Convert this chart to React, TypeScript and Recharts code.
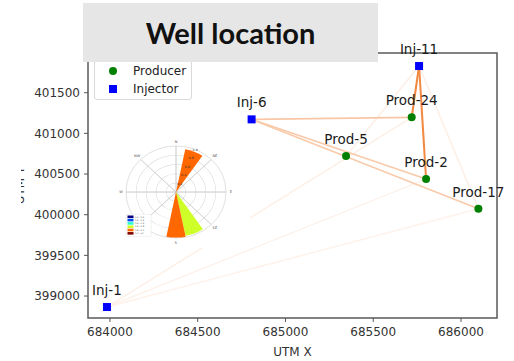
import React from "react";
import { ScatterChart, Scatter, XAxis, YAxis, ReferenceArea, PieChart, Pie } from "recharts";

// well coordinates (UTM)
const wellNames = ["Inj-1", "Inj-6", "Inj-11", "Prod-24", "Prod-5", "Prod-2", "Prod-17"];
const wellType = ["Injector", "Injector", "Injector", "Producer", "Producer", "Producer", "Producer"];
const wellX = [683983, 684807, 685761, 685719, 685345, 685801, 686099];
const wellY = [398865, 401172, 401828, 401197, 400721, 400438, 400073];

// injector -> producer connectivity
const connFrom = ["Inj-1", "Inj-1", "Inj-1", "Inj-11", "Inj-11", "Inj-6", "Inj-6", "Inj-6", "Inj-11", "Inj-11"];
const connTo = ["Prod-24", "Prod-2", "Prod-17", "Prod-5", "Prod-17", "Prod-24", "Prod-2", "Prod-17", "Prod-24", "Prod-2"];
const connWeight = [0.12, 0.1, 0.1, 0.12, 0.12, 0.42, 0.4, 0.4, 0.9, 0.88];

const xTicks = [684000, 684500, 685000, 685500, 686000];
const yTicks = [399000, 399500, 400000, 400500, 401000, 401500];
const xDomain = [683875, 686205];
const yDomain = [398730, 401988];

// wind rose inset
const roseDir = [22.5, 157.5, 180];
const roseValue = [0.95, 0.97, 0.99];
const roseBin = [4, 3, 4];
const ringValues = [0.2, 0.4, 0.6, 0.8, 1.0];
const ringLabels = ["0.2", "0.4", "0.6", "0.8", "1.0"];
const compassNames = ["N", "NE", "E", "SE", "S", "SW", "W", "NW"];
const binLabels = ["0.0 : 0.2", "0.2 : 0.4", "0.4 : 0.6", "0.6 : 0.8", "0.8 : 1.0", "1.0 : inf"];
const binColors = ["#000080", "#004cff", "#29ffce", "#ceff29", "#ff6800", "#800000"];

const wells = wellNames.map((name, i) => ({ name, type: wellType[i], x: wellX[i], y: wellY[i] }));
const producers = wells.filter((w) => w.type === "Producer");
const injectors = wells.filter((w) => w.type === "Injector");

const findWell = (n: string) => wells.find((w) => w.name === n)!;

function orange(w: number) {
  const mix = (a: number, b: number) => Math.round(a + (b - a) * w);
  return `rgb(${mix(255, 240)},${mix(255, 122)},${mix(255, 42)})`;
}

const WellMarker = (props: any) => {
  const { cx, cy, payload } = props;
  return (
    <g>
      {payload.type === "Producer" ? (
        <circle cx={cx} cy={cy} r={4} fill="#008000" />
      ) : (
        <rect x={cx - 4} y={cy - 4} width={8} height={8} fill="#0000ff" />
      )}
      <text x={cx} y={cy - 12} textAnchor="middle" fontSize={13.5} fontFamily="DejaVu Sans" fill="#1a1a1a">
        {payload.name}
      </text>
    </g>
  );
};

const font = "DejaVu Sans";
const R = 50;
const CX = 72;
const CY = 62;

function WindRose() {
  const pt = (deg: number, r: number) => ({
    x: CX + r * Math.sin((deg * Math.PI) / 180),
    y: CY - r * Math.cos((deg * Math.PI) / 180),
  });
  return (
    <div style={{ position: "absolute", left: 104, top: 135, width: 146, height: 113, background: "#fff", overflow: "hidden" }}>
      <div style={{ position: "relative", width: 146, height: 123, transform: "scaleY(0.92)", transformOrigin: "0 0" }}>
        <PieChart width={146} height={123} margin={{ top: 0, right: 0, bottom: 0, left: 0 }}>
          {ringValues.slice(0, -1).map((v, i) => (
            <Pie
              key={"ring" + i}
              data={[{ value: 1 }]}
              dataKey="value"
              cx={CX}
              cy={CY}
              innerRadius={R * v - 0.35}
              outerRadius={R * v + 0.15}
              fill="#d4d4d4"
              stroke="none"
              isAnimationActive={false}
            />
          ))}
          <Pie
            data={compassNames.map(() => ({ value: 1 }))}
            dataKey="value"
            cx={CX}
            cy={CY}
            innerRadius={0}
            outerRadius={R}
            startAngle={90}
            endAngle={-270}
            fill="none"
            stroke="#c8c8c8"
            strokeWidth={0.6}
            isAnimationActive={false}
          />
          {roseDir.map((d, i) => (
            <Pie
              key={"rose" + i}
              data={[{ value: 1 }]}
              dataKey="value"
              cx={CX}
              cy={CY}
              innerRadius={0}
              outerRadius={R * roseValue[i]}
              startAngle={90 - (d - 11.25)}
              endAngle={90 - (d + 11.25)}
              fill={binColors[roseBin[i]]}
              stroke="none"
              isAnimationActive={false}
            />
          ))}
        </PieChart>
        <svg width={146} height={123} style={{ position: "absolute", left: 0, top: 0 }}>
          {compassNames.map((n, i) => {
            const p = pt(i * 45, R * 1.1);
            return (
              <text key={n} x={p.x} y={p.y + 1.3} textAnchor="middle" fontSize={3.6} fontFamily={font} fill="#555">
                {n}
              </text>
            );
          })}
          {ringValues.map((v, i) => {
            const p = pt(22.5, R * v);
            return (
              <text key={"rl" + i} x={p.x} y={p.y + 1.2} textAnchor="middle" fontSize={3.4} fontFamily={font} fill="#333">
                {ringLabels[i]}
              </text>
            );
          })}
          <rect x={22} y={86} width={25} height={24} fill="#fff" stroke="#ddd" strokeWidth={0.4} />
          {binLabels.map((b, i) => (
            <g key={b}>
              <rect x={23.5} y={87.5 + i * 3.6} width={6} height={2.8} fill={binColors[i]} />
              <text x={31} y={89.7 + i * 3.6} fontSize={2.2} fontFamily={font} fill="#444">
                {b}
              </text>
            </g>
          ))}
        </svg>
      </div>
    </div>
  );
}

export default function App() {
  return (
    <div style={{ position: "absolute", left: 0, top: 0, width: 514, height: 361, background: "#fff", overflow: "hidden" }}>
      <ScatterChart width={514} height={361} margin={{ top: 53, right: 17, bottom: 0, left: 8 }}>
        <XAxis
          type="number"
          dataKey="x"
          domain={xDomain}
          ticks={xTicks}
          height={43}
          axisLine={false}
          tickLine={{ stroke: "#555" }}
          tickSize={4}
          tickMargin={5}
          tick={{ fontSize: 12, fontFamily: font, fill: "#333" }}
          label={{ value: "UTM X", position: "insideBottom", offset: 5, fontSize: 12, fontFamily: font, fill: "#333" }}
        />
        <YAxis
          type="number"
          dataKey="y"
          domain={yDomain}
          ticks={yTicks}
          width={80}
          axisLine={false}
          tickLine={{ stroke: "#555" }}
          tickSize={4}
          tickMargin={4}
          tick={{ fontSize: 12, fontFamily: font, fill: "#333" }}
        />
        <ReferenceArea
          x1={xDomain[0]}
          x2={xDomain[1]}
          y1={yDomain[0]}
          y2={yDomain[1]}
          fill="none"
          fillOpacity={0}
          stroke="#5a5a5a"
          strokeWidth={1.5}
        />
        {connFrom.map((f, i) => {
          const a = findWell(f);
          const b = findWell(connTo[i]);
          return (
            <Scatter
              key={"c" + i}
              data={[a, b]}
              line={{ stroke: orange(connWeight[i]), strokeWidth: 1.4 + 0.7 * connWeight[i] }}
              shape={() => <g />}
              legendType="none"
              isAnimationActive={false}
            />
          );
        })}
        <Scatter name="Producer" data={producers} shape={WellMarker} isAnimationActive={false} />
        <Scatter name="Injector" data={injectors} shape={WellMarker} isAnimationActive={false} />
      </ScatterChart>

      {/* y label, mostly cut off in the original */}
      <svg width={5} height={50} style={{ position: "absolute", left: 21, top: 160, overflow: "hidden" }}>
        <text transform="translate(3,25.5) rotate(-90)" textAnchor="middle" fontSize={12} fontFamily={font} fill="#333">
          UTM Y
        </text>
      </svg>

      <div
        style={{
          position: "absolute",
          left: 94,
          top: 40,
          width: 96,
          height: 58,
          background: "#fff",
          border: "1px solid #d9d9d9",
          borderRadius: 3,
          fontFamily: font,
          fontSize: 12,
          color: "#222",
        }}
      >
        <div style={{ position: "absolute", left: 14, top: 26, width: 8, height: 8, borderRadius: 4, background: "#008000" }} />
        <div style={{ position: "absolute", left: 38, top: 23, lineHeight: "14px" }}>Producer</div>
        <div style={{ position: "absolute", left: 14, top: 44, width: 8, height: 8, background: "#0000ff" }} />
        <div style={{ position: "absolute", left: 38, top: 41, lineHeight: "14px" }}>Injector</div>
      </div>

      <WindRose />

      <div
        style={{
          position: "absolute",
          left: 83,
          top: 3,
          width: 295,
          height: 59,
          background: "#e6e6e6",
          display: "flex",
          alignItems: "center",
          justifyContent: "center",
          fontFamily: "Lato",
          fontWeight: 700,
          fontSize: 29,
          color: "#111",
        }}
      >
        Well location
      </div>
    </div>
  );
}
